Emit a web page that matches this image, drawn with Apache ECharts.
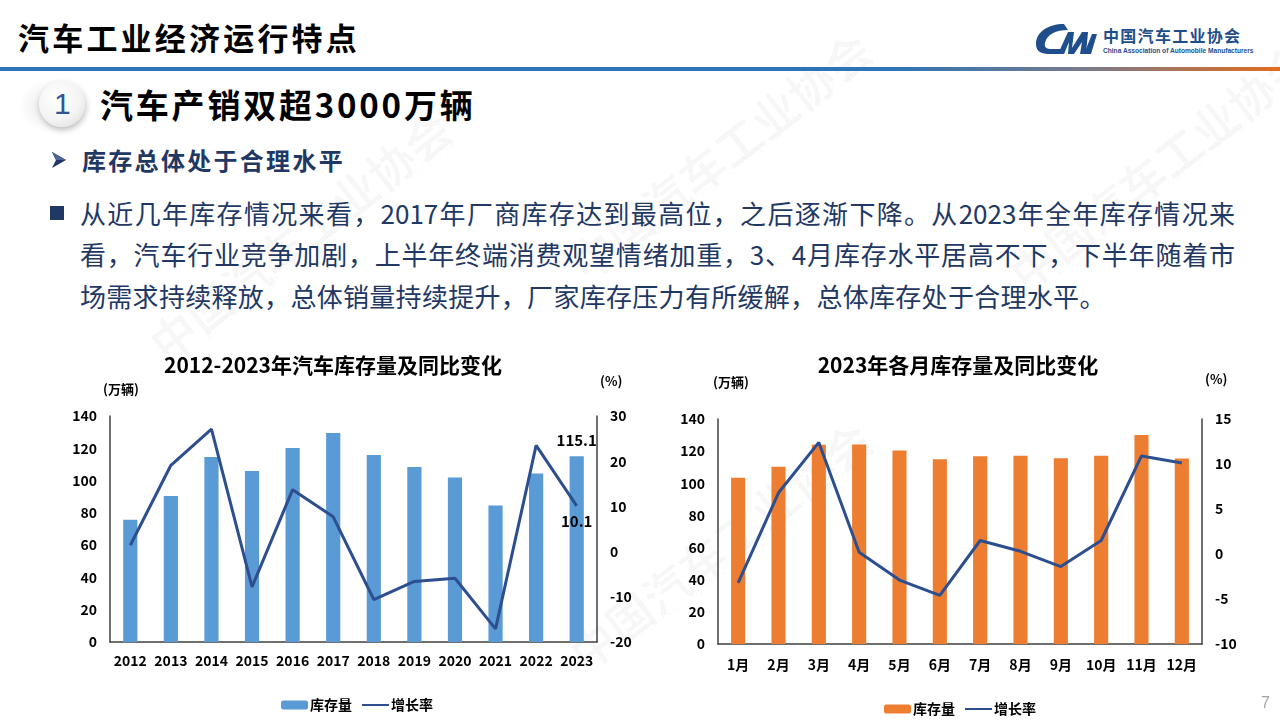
<!DOCTYPE html>
<html>
<head>
<meta charset="utf-8">
<script src="https://cdn.jsdelivr.net/npm/echarts/dist/echarts.min.js"></script>
<style>
  html, body { margin:0; padding:0; width:1280px; height:720px; overflow:hidden; background:#fff; }
  body { position:relative; font-family:"Noto Sans CJK SC","Noto Sans",sans-serif; }
  .abs { position:absolute; white-space:nowrap; line-height:1; }
  .wm { position:absolute; white-space:nowrap; color:rgba(0,0,0,0.03); font-weight:bold; transform-origin:0 0; line-height:1; }
  .wme { position:absolute; white-space:nowrap; color:rgba(0,0,0,0.03); font-family:"Open Sans",sans-serif; transform-origin:0 0; line-height:1; font-style:italic; }
  .pline { position:absolute; left:80px; font-size:26px; line-height:1; color:#1F3864; white-space:nowrap; }
  .just { width:1155px; text-align:justify; text-align-last:justify; }
  .chart { position:absolute; top:340px; height:380px; }
</style>
</head>
<body>
<!-- faint watermark -->
<div class="wm" style="left:140px;top:330px;font-size:46px;transform:rotate(-38deg);">中国汽车工业协会</div>
<div class="wme" style="left:200px;top:330px;font-size:15px;transform:rotate(-38deg);">China Association of Automobile Manufacturers</div>
<div class="wm" style="left:560px;top:250px;font-size:46px;transform:rotate(-38deg);">中国汽车工业协会</div>
<div class="wme" style="left:610px;top:255px;font-size:15px;transform:rotate(-38deg);">China Association of Automobile Manufacturers</div>
<div class="wm" style="left:1000px;top:260px;font-size:46px;transform:rotate(-38deg);">中国汽车工业协会</div>
<div class="wme" style="left:1050px;top:265px;font-size:15px;transform:rotate(-38deg);">China Association of Automobile Manufacturers</div>
<div class="wm" style="left:560px;top:640px;font-size:46px;transform:rotate(-38deg);">中国汽车工业协会</div>
<div class="wme" style="left:620px;top:640px;font-size:15px;transform:rotate(-38deg);">China Association of Automobile Manufacturers</div>

<!-- header -->
<div class="abs" style="left:18px;top:21px;font-size:31px;font-weight:bold;letter-spacing:3.2px;color:#000;">汽车工业经济运行特点</div>
<svg style="position:absolute;left:1034px;top:22px;" width="66" height="34" viewBox="0 0 66 34">
  <path d="M30 2 C14 2 2 10 2 22 C2 30 8 32 16 32 L30 32 L31 27 L18 27 C12 27 10 25 11 21 C13 12 22 8 34 8 Z" fill="#1F4E8C"/>
  <path d="M24 32 L34 10 L40 10 L38 26 L48 10 L54 10 L52 32 L46 32 L48 20 L40 32 L34 32 L35 20 L30 32 Z" fill="#1F4E8C"/>
  <path d="M50 32 L58 12 L63 12 L57 32 Z" fill="#1F4E8C"/>
</svg>
<div class="abs" style="left:1103px;top:27px;font-size:16px;font-weight:bold;color:#1F4E8C;letter-spacing:1.3px;">中国汽车工业协会</div>
<div class="abs" style="left:1103px;top:48px;font-size:6.6px;font-weight:bold;color:#1F4E8C;font-family:'Liberation Sans',sans-serif;">China Association of Automobile Manufacturers</div>
<div style="position:absolute;left:0;top:67px;width:1280px;height:4px;background:linear-gradient(to right,#2E75B6 0%,#2E75B6 70%,#7A7A8A 85%,#E36C1E 100%);"></div>

<!-- section heading -->
<div style="position:absolute;left:18px;top:78px;width:60px;height:56px;background:radial-gradient(ellipse at 60% 50%, rgba(0,0,0,0.10), rgba(0,0,0,0) 70%);"></div>
<div style="position:absolute;left:39px;top:81px;width:46px;height:46px;border-radius:50%;background:radial-gradient(circle at 40% 35%,#ffffff 0%,#f4f4f4 55%,#d9d9d9 100%);box-shadow:1px 3px 6px rgba(0,0,0,0.25);"></div>
<div class="abs" style="left:54px;top:89px;font-size:30px;color:#2F5597;font-family:'Liberation Sans',sans-serif;">1</div>
<div class="abs" style="left:100px;top:88px;font-size:33px;font-weight:bold;letter-spacing:2.8px;color:#000;">汽车产销双超3000万辆</div>
<svg style="position:absolute;left:52px;top:152px;" width="14" height="16" viewBox="0 0 14 16">
  <polygon points="0,0 14,8 0,16 4,8" fill="#1F3864"/>
  <polygon points="0,0 14,8 4,8" fill="#4A6496"/>
</svg>
<div class="abs" style="left:82px;top:148px;font-size:24px;font-weight:bold;letter-spacing:2.3px;color:#1F3864;">库存总体处于合理水平</div>

<!-- paragraph -->
<div style="position:absolute;left:50px;top:206px;width:14px;height:14px;background:#1F3864;"></div>
<div class="pline just" style="top:200px;">从近几年库存情况来看，2017年厂商库存达到最高位，之后逐渐下降。从2023年全年库存情况来</div>
<div class="pline just" style="top:241px;">看，汽车行业竞争加剧，上半年终端消费观望情绪加重，3、4月库存水平居高不下，下半年随着市</div>
<div class="pline" style="top:283px;letter-spacing:0.3px;">场需求持续释放，总体销量持续提升，厂家库存压力有所缓解，总体库存处于合理水平。</div>

<div id="c1" class="chart" style="left:0px;width:666px;"></div>
<div id="c2" class="chart" style="left:650px;width:616px;"></div>

<div class="abs" style="left:1261px;top:695px;font-size:16px;color:#A6A6A6;font-family:'Liberation Sans',sans-serif;">7</div>

<script>
// ---- data ----
const years = ['2012','2013','2014','2015','2016','2017','2018','2019','2020','2021','2022','2023'];
const annualStock = [75.7, 90.4, 114.6, 105.9, 120.1, 129.4, 115.8, 108.4, 101.9, 84.6, 104.4, 115.1];
const annualGrowth = [1.4, 19.1, 27.1, -7.8, 13.7, 7.7, -10.6, -6.6, -5.9, -17.1, 23.5, 10.1];

const months = ['1月','2月','3月','4月','5月','6月','7月','8月','9月','10月','11月','12月'];
const monthlyStock = [103.4, 110.3, 124.0, 124.2, 120.4, 115.0, 116.9, 117.1, 115.6, 117.1, 130.0, 115.4];
const monthlyGrowth = [-3.2, 6.8, 12.4, 0.2, -2.9, -4.6, 1.5, 0.3, -1.4, 1.5, 10.9, 10.1];

const chartTitles = ['2012-2023年汽车库存量及同比变化', '2023年各月库存量及同比变化'];
const seriesNames = ['库存量', '增长率'];
const unitLeft = '(万辆)';
const unitRight = '(%)';

const FONT = '"Noto Sans CJK SC", "Noto Sans", sans-serif';
const AXIS_COLOR = '#404040';
const LINE_COLOR = '#2E4F8F';

function axisLabel(margin) {
  return { color: '#000', fontWeight: 'bold', fontSize: 14, fontFamily: FONT, margin: margin };
}
const valueLabel = { fontSize: 15, fontWeight: 'bold', color: '#000', fontFamily: FONT };

function buildOption(cfg) {
  const lastIdx = cfg.cats.length - 1;
  return {
    animation: false,
    textStyle: { fontFamily: FONT },
    title: {
      text: cfg.title, left: 'center', top: 10,
      textStyle: { fontSize: 21, fontWeight: 'bold', color: '#000', fontFamily: FONT }
    },
    legend: {
      left: cfg.legendLeft, top: cfg.legendTop,
      itemWidth: 27, itemHeight: 9, itemGap: 9,
      textStyle: { fontSize: 14, fontWeight: 'bold', color: '#000', fontFamily: FONT, padding: [0, 0, 0, -3] },
      data: [ { name: seriesNames[0] }, { name: seriesNames[1], itemStyle: { opacity: 0 } } ]
    },
    graphic: [
      { type: 'text', left: cfg.unitL[0], top: cfg.unitL[1],
        style: { text: unitLeft, fill: '#000', font: 'bold 13px ' + FONT } },
      { type: 'text', left: cfg.unitR[0], top: cfg.unitR[1],
        style: { text: unitRight, fill: '#000', font: 'bold 13px ' + FONT } }
    ],
    grid: cfg.grid,
    xAxis: {
      type: 'category', data: cfg.cats,
      axisLine: { lineStyle: { color: AXIS_COLOR, width: 1.5 } },
      axisTick: { show: false },
      axisLabel: Object.assign(axisLabel(cfg.xMargin), { interval: 0 })
    },
    yAxis: [
      { type: 'value', min: 0, max: 140, interval: 20,
        axisLine: { show: true, lineStyle: { color: AXIS_COLOR, width: 1.5 } },
        axisTick: { show: false }, splitLine: { show: false },
        axisLabel: axisLabel(13) },
      { type: 'value', min: cfg.rMin, max: cfg.rMax, interval: cfg.rInt,
        axisLine: { show: true, lineStyle: { color: AXIS_COLOR, width: 1.5 } },
        axisTick: { show: false }, splitLine: { show: false },
        axisLabel: axisLabel(13) }
    ],
    series: [
      { name: seriesNames[0], type: 'bar', data: cfg.bars, barWidth: '35%',
        itemStyle: { color: cfg.barColor },
        label: cfg.lastLabels ? Object.assign({
          show: true, position: 'top', distance: 8,
          formatter: p => p.dataIndex === lastIdx ? String(p.value) : '' }, valueLabel) : { show: false } },
      { name: seriesNames[1], type: 'line', yAxisIndex: 1, data: cfg.line,
        symbol: 'none', lineStyle: { color: LINE_COLOR, width: 3 }, itemStyle: { color: LINE_COLOR },
        markPoint: cfg.lastLabels ? {
          symbol: 'circle', symbolSize: 0,
          label: Object.assign({ show: true, position: 'bottom', distance: 8,
            formatter: p => String(p.value) }, valueLabel),
          data: [ { coord: [lastIdx, cfg.line[lastIdx]], value: cfg.line[lastIdx] } ]
        } : undefined }
    ]
  };
}

const c1 = echarts.init(document.getElementById('c1'));
c1.setOption(buildOption({
  title: chartTitles[0], cats: years, bars: annualStock, line: annualGrowth,
  barColor: '#5B9BD5', rMin: -20, rMax: 30, rInt: 10,
  grid: { left: 110, right: 69, top: 76, bottom: 78 },
  xMargin: 12, legendLeft: 276, legendTop: 353,
  unitL: [103, 43], unitR: [600, 35], lastLabels: true
}));

const c2 = echarts.init(document.getElementById('c2'));
c2.setOption(buildOption({
  title: chartTitles[1], cats: months, bars: monthlyStock, line: monthlyGrowth,
  barColor: '#ED7D31', rMin: -10, rMax: 15, rInt: 5,
  grid: { left: 68, right: 64, top: 79, bottom: 76 },
  xMargin: 14, legendLeft: 229, legendTop: 357,
  unitL: [63, 36], unitR: [555, 33], lastLabels: false
}));
</script>
</body>
</html>
